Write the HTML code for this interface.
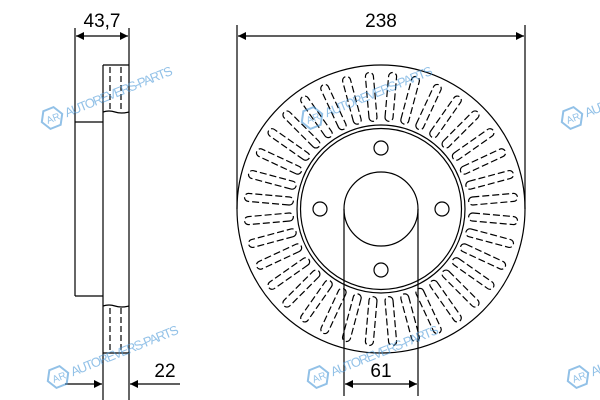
<!DOCTYPE html>
<html><head><meta charset="utf-8"><style>
html,body{margin:0;padding:0;background:#fff;}
svg{display:block;}
text{font-family:"Liberation Sans",sans-serif;}
</style></head><body>
<svg id="s" width="600" height="400" viewBox="0 0 600 400" xmlns="http://www.w3.org/2000/svg">
<defs>
<marker id="a" viewBox="0 0 10 10" refX="10" refY="5" markerWidth="12" markerHeight="8" orient="auto-start-reverse" markerUnits="userSpaceOnUse"><path d="M0,0 L10,5 L0,10 z" fill="#000"/></marker>
</defs>
<g fill="none" stroke="#000" stroke-width="1.2">
<line x1="75" y1="28" x2="75" y2="296"/>
<line x1="75" y1="122" x2="103" y2="122"/>
<line x1="75" y1="296" x2="103" y2="296"/>
<line x1="103" y1="65" x2="103" y2="400"/>
<line x1="129" y1="28" x2="129" y2="400"/>
<line x1="103" y1="65" x2="129" y2="65"/>
<path d="M103 112 q6 -2 12 0 t14 0"/>
<path d="M103 306 q6 -2 12 0 t14 0"/>
<line x1="103" y1="353" x2="129" y2="353"/>
<g stroke-dasharray="6,3"><line x1="110" y1="67" x2="110" y2="110"/><line x1="121" y1="67" x2="121" y2="110"/><line x1="110" y1="308" x2="110" y2="351"/><line x1="121" y1="308" x2="121" y2="351"/></g>
<line x1="76" y1="36" x2="128" y2="36" marker-start="url(#a)" marker-end="url(#a)"/>
<line x1="65" y1="384" x2="102" y2="384" marker-end="url(#a)"/>
<line x1="180" y1="384" x2="130" y2="384" marker-end="url(#a)"/>
<line x1="237" y1="25" x2="237" y2="209"/>
<line x1="525" y1="25" x2="525" y2="209"/>
<line x1="238" y1="36" x2="524" y2="36" marker-start="url(#a)" marker-end="url(#a)"/>
<circle cx="381" cy="209" r="144"/>
<circle cx="381" cy="209" r="84"/>
<circle cx="381" cy="209" r="80.5"/>
<circle cx="381" cy="209" r="37"/>
<circle cx="381" cy="148" r="7"/>
<circle cx="381" cy="270" r="7"/>
<circle cx="320" cy="209" r="7"/>
<circle cx="442" cy="209" r="7"/>
<line x1="344" y1="209" x2="344" y2="396"/>
<line x1="418" y1="209" x2="418" y2="396"/>
<line x1="345" y1="384" x2="417" y2="384" marker-start="url(#a)" marker-end="url(#a)"/>
<g id="slots" stroke-dasharray="7,3" stroke-width="1.2"></g>
</g>
<g font-size="19" fill="#000" text-anchor="middle">
<text x="102" y="27">43,7</text>
<text x="165" y="377">22</text>
<text x="381" y="27">238</text>
<text x="381" y="377">61</text>
</g>
<g id="wm" fill="#4a98d8" stroke="#4a98d8" opacity="0.6"></g>
</svg>
<script>
var g=document.getElementById('slots'),ns='http://www.w3.org/2000/svg';
var N=36;
for(var i=0;i<N;i++){
 var ang=i*360/N+5;
 var p=document.createElementNS(ns,'path');
 p.setAttribute('d','M92 -4 L133 -4 A4 4 0 0 1 133 4 L92 4 A4 4 0 0 1 92 -4');
 p.setAttribute('transform','translate(381 209) rotate('+ang+')');
 g.appendChild(p);
}
var wm=document.getElementById('wm');
var pos=[[52,118],[312,118],[572,118],[58,377],[318,377],[578,377]];
pos.forEach(function(q){
 var gg=document.createElementNS(ns,'g');
 gg.setAttribute('transform','translate('+q[0]+' '+q[1]+') rotate(-22)');
 var h=document.createElementNS(ns,'polygon');
 h.setAttribute('points','-11,0 -5.5,-9.5 5.5,-9.5 11,0 5.5,9.5 -5.5,9.5');
 h.setAttribute('fill','none');h.setAttribute('stroke-width','2');
 gg.appendChild(h);
 var t=document.createElementNS(ns,'text');
 t.setAttribute('x','-6');t.setAttribute('y','4');t.setAttribute('font-size','10');t.setAttribute('stroke','none');
 t.textContent='AR';gg.appendChild(t);
 var t2=document.createElementNS(ns,'text');
 t2.setAttribute('x','14');t2.setAttribute('y','5');t2.setAttribute('font-size','13');t2.setAttribute('stroke','none');
 t2.setAttribute('textLength','115');
 t2.textContent='AUTOREVERS-PARTS';gg.appendChild(t2);
 wm.appendChild(gg);
});
</script>
</body></html>
